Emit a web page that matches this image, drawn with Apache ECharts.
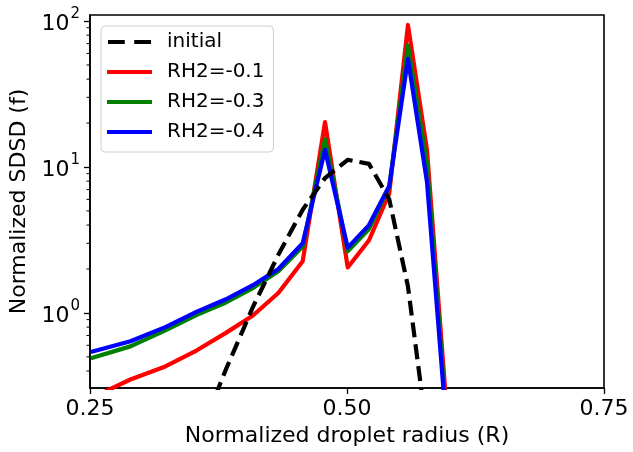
<!DOCTYPE html>
<html>
<head>
<meta charset="utf-8">
<script src="https://cdn.jsdelivr.net/npm/echarts@6/dist/echarts.min.js"></script>
<style>
html,body{margin:0;padding:0;background:#fff;}
#chart{width:633px;height:452px;}
</style>
</head>
<body>
<div id="chart"></div>
<script>
// Droplet radius bins
const radius = [0.2508, 0.2893, 0.3233, 0.3540, 0.3822, 0.4085, 0.4332, 0.4569, 0.4786, 0.5007, 0.5214, 0.5411, 0.5593, 0.5778, 0.5956, 0.6128];
// Series values
const initialVals = [0.0005, 0.003, 0.03, 0.13, 0.41, 1.1, 2.5, 5.1, 8.4, 11.2, 10.5, 6.0, 1.52, 0.15, 0.01, 0.0003];
const rh01Vals = [0.26, 0.35, 0.43, 0.555, 0.73, 0.96, 1.37, 2.26, 20.3, 2.05, 3.15, 6.6, 94, 13.1, 0.29, 0.06];
const rh03Vals = [0.49, 0.59, 0.76, 0.97, 1.18, 1.48, 1.93, 2.85, 15.5, 2.65, 3.75, 7.3, 68, 10.5, 0.24, 0.05];
const rh04Vals = [0.54, 0.64, 0.80, 1.02, 1.24, 1.55, 2.0, 3.0, 13.1, 2.8, 4.0, 7.4, 55, 7.9, 0.21, 0.05];
const seriesNames = ['initial', 'RH2=-0.1', 'RH2=-0.3', 'RH2=-0.4'];
// Axis ticks
const xTicks = [0.25, 0.50, 0.75];
const yMajorTicks = [1, 10, 100];
const yMinorTicks = [0.4, 0.5, 0.6, 0.7, 0.8, 0.9, 2, 3, 4, 5, 6, 7, 8, 9, 20, 30, 40, 50, 60, 70, 80, 90];
const xRange = [0.25, 0.75];
const yRange = [0.306, 110];

const FONT = 'DejaVu Sans';
const pair = vals => radius.map((r, i) => [r, vals[i]]);

const chart = echarts.init(document.getElementById('chart'), null, {renderer: 'canvas'});
const lineSeries = (name, vals, color, dashed) => ({
  name: name, type: 'line', data: pair(vals), symbol: 'none', clip: true,
  lineStyle: {color: color, width: 4.2, type: dashed ? [15, 7] : 'solid', cap: 'butt', join: 'round'},
  itemStyle: {color: color}, z: dashed ? 3 : 2, animation: false
});

chart.setOption({
  animation: false,
  backgroundColor: '#fff',
  grid: {left: 90, right: 29, top: 15, bottom: 64, show: true, borderColor: '#000', borderWidth: 1.6, backgroundColor: 'transparent'},
  legend: {
    data: [
      {name: seriesNames[0], icon: 'path://M0,0H16V4H0Z M25,0H41V4H25Z'},
      {name: seriesNames[1], icon: 'rect'},
      {name: seriesNames[2], icon: 'rect'},
      {name: seriesNames[3], icon: 'rect'}
    ],
    orient: 'vertical', left: 101, top: 26,
    backgroundColor: '#fff', borderColor: '#d0d0d0', borderWidth: 1, borderRadius: 4,
    padding: [1, 9, 5, 6], itemWidth: 45, itemHeight: 4.2, itemGap: 0,
    textStyle: {fontFamily: FONT, fontSize: 20, color: '#000', padding: [0, 0, 0, 10], lineHeight: 30}
  },
  xAxis: {
    type: 'value', min: xRange[0], max: xRange[1], interval: 0.25,
    name: 'Normalized droplet radius (R)', nameLocation: 'middle', nameGap: 34,
    nameTextStyle: {fontFamily: FONT, fontSize: 22, color: '#000'},
    axisLine: {show: true, lineStyle: {color: '#000', width: 1.6}},
    axisTick: {show: true, length: 6, lineStyle: {color: '#000', width: 1.3}},
    axisLabel: {fontFamily: FONT, fontSize: 22, color: '#000', margin: 10,
      formatter: v => xTicks.some(t => Math.abs(t - v) < 1e-9) ? v.toFixed(2) : ''},
    splitLine: {show: false}
  },
  yAxis: {
    type: 'log', logBase: 10, min: yRange[0], max: yRange[1],
    name: 'Normalized SDSD (f)', nameLocation: 'middle', nameGap: 58,
    nameTextStyle: {fontFamily: FONT, fontSize: 22, color: '#000'},
    axisLine: {show: true, lineStyle: {color: '#000', width: 1.6}},
    axisTick: {show: true, length: 6, lineStyle: {color: '#000', width: 1.3}},
    axisLabel: {
      showMinLabel: false, showMaxLabel: false, margin: 10,
      formatter: v => {
        const m = yMajorTicks.find(t => Math.abs(t - v) / t < 1e-6);
        return m ? '{b|10}{s|' + Math.round(Math.log10(m)) + '}' : '';
      },
      rich: {
        b: {fontFamily: FONT, fontSize: 22, color: '#000', lineHeight: 28, verticalAlign: 'bottom'},
        s: {fontFamily: FONT, fontSize: 15, color: '#000', lineHeight: 28, verticalAlign: 'top', padding: [0, 0, 0, 1]}
      }
    },
    splitLine: {show: false}
  },
  series: [
    lineSeries(seriesNames[1], rh01Vals, '#ff0000', false),
    lineSeries(seriesNames[2], rh03Vals, '#008000', false),
    lineSeries(seriesNames[3], rh04Vals, '#0000ff', false),
    lineSeries(seriesNames[0], initialVals, '#000000', true),
    {
      type: 'custom', silent: true, clip: false, animation: false,
      data: yMinorTicks.map(v => [xRange[0], v]),
      renderItem: (params, api) => {
        const p = api.coord([api.value(0), api.value(1)]);
        return {type: 'line', shape: {x1: p[0] - 3.5, y1: p[1], x2: p[0], y2: p[1]},
          style: {stroke: '#000', lineWidth: 1}};
      }
    }
  ]
});
</script>
</body>
</html>
